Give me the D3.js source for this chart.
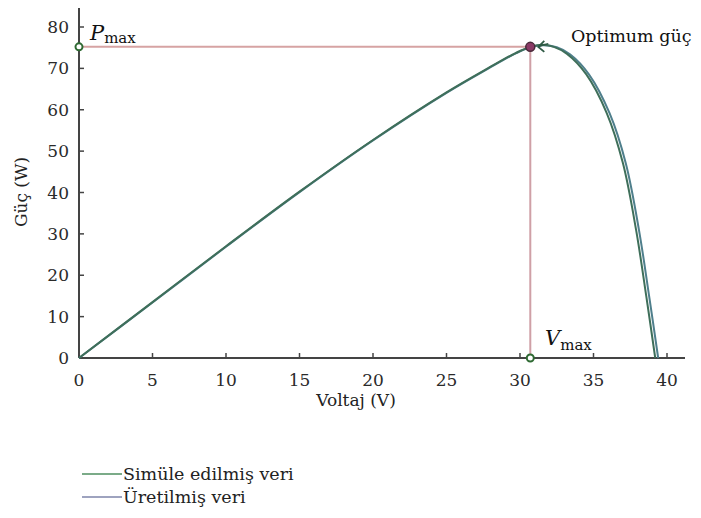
<!DOCTYPE html>
<html>
<head>
<meta charset="utf-8">
<script src="https://cdn.jsdelivr.net/npm/d3@7"></script>
<style>
  body { margin: 0; background: #fff; }
  svg text { font-family: "DejaVu Serif", serif; }
</style>
</head>
<body>
<div id="chart"></div>
<script>
// simulated data (voltage V, power W)
var simVolt  = [0, 5, 10, 15, 20, 25, 28, 29, 30, 30.7, 31.5, 32.3, 33.2, 34.5, 35.9, 37, 37.9, 38.6, 39.2];
var simPower = [0, 13.5, 27, 40.2, 52.7, 64.2, 70.4, 72.4, 74.2, 75.2, 75.7, 75.2, 73.5, 68.6, 59.2, 47.1, 30.9, 14.7, 0];
// produced (measured) data
var prodVolt  = [0, 5, 10, 15, 20, 25, 28, 29, 30, 30.7, 31.6, 32.5, 33.4, 34.7, 36.1, 37.2, 38.1, 38.8, 39.4];
var prodPower = [0, 13.4, 26.9, 40.1, 52.6, 64.1, 70.3, 72.3, 74.1, 75.1, 75.6, 75.1, 73.4, 68.5, 59.1, 47, 30.8, 14.6, 0];

var xTicks = [0, 5, 10, 15, 20, 25, 30, 35, 40];
var yTicks = [0, 10, 20, 30, 40, 50, 60, 70, 80];
var vMax = 30.7, pMax = 75.2;
var legendLabels = ["Simüle edilmiş veri", "Üretilmiş veri"];
var legendColors = ["#4f8f60", "#7e84aa"];

var width = 701, height = 518;
var svg = d3.select("#chart").append("svg")
    .attr("width", width)
    .attr("height", height);

var x = d3.scaleLinear().domain([0, 40]).range([79, 667]);
var y = d3.scaleLinear().domain([0, 80]).range([358, 27]);

// axes lines
svg.append("line")
    .attr("x1", x(0)).attr("x2", 685)
    .attr("y1", y(0)).attr("y2", y(0))
    .attr("stroke", "#444").attr("stroke-width", 2);
svg.append("line")
    .attr("x1", x(0)).attr("x2", x(0))
    .attr("y1", 8).attr("y2", y(0))
    .attr("stroke", "#444").attr("stroke-width", 2);

// ticks + labels
xTicks.forEach(function(t){
    if (t > 0) {
        svg.append("line")
            .attr("x1", x(t)).attr("x2", x(t))
            .attr("y1", y(0)).attr("y2", y(0) - 5)
            .attr("stroke", "#444").attr("stroke-width", 1.5);
    }
    svg.append("text")
        .attr("x", x(t)).attr("y", 386)
        .attr("text-anchor", "middle")
        .attr("fill", "#2a2a2a")
        .style("font-size", "17px")
        .text(t);
});
yTicks.forEach(function(t){
    if (t > 0) {
        svg.append("line")
            .attr("x1", x(0)).attr("x2", x(0) + 5)
            .attr("y1", y(t)).attr("y2", y(t))
            .attr("stroke", "#444").attr("stroke-width", 1.5);
    }
    svg.append("text")
        .attr("x", 69).attr("y", y(t) + 6)
        .attr("text-anchor", "end")
        .attr("fill", "#2a2a2a")
        .style("font-size", "17px")
        .text(t);
});

// axis titles
svg.append("text")
    .attr("x", 356).attr("y", 406)
    .attr("text-anchor", "middle")
    .attr("fill", "#222")
    .style("font-size", "17px")
    .text("Voltaj (V)");
svg.append("text")
    .attr("transform", "translate(27,192) rotate(-90)")
    .attr("text-anchor", "middle")
    .attr("fill", "#222")
    .style("font-size", "17px")
    .text("Güç (W)");

// reference lines to max point
svg.append("line")
    .attr("x1", x(0)).attr("x2", x(vMax))
    .attr("y1", y(pMax)).attr("y2", y(pMax))
    .attr("stroke", "#d6a3a3").attr("stroke-width", 2);
svg.append("line")
    .attr("x1", x(vMax)).attr("x2", x(vMax))
    .attr("y1", y(pMax)).attr("y2", y(0))
    .attr("stroke", "#cfa0a6").attr("stroke-width", 2);

// curves
var line = d3.line()
    .x(function(d){ return x(d[0]); })
    .y(function(d){ return y(d[1]); })
    .curve(d3.curveCatmullRom.alpha(0.5));

svg.append("path")
    .datum(d3.zip(prodVolt, prodPower))
    .attr("d", line)
    .attr("fill", "none")
    .attr("stroke", "#4f7f8c")
    .attr("stroke-width", 2);
svg.append("path")
    .datum(d3.zip(simVolt, simPower))
    .attr("d", line)
    .attr("fill", "none")
    .attr("stroke", "#3f6f5a")
    .attr("stroke-width", 2);

// markers
svg.append("circle")
    .attr("cx", x(0)).attr("cy", y(pMax)).attr("r", 3.5)
    .attr("fill", "#fff").attr("stroke", "#2f6a33").attr("stroke-width", 2);
svg.append("circle")
    .attr("cx", x(vMax)).attr("cy", y(0)).attr("r", 3.5)
    .attr("fill", "#fff").attr("stroke", "#2f6a33").attr("stroke-width", 2);
svg.append("circle")
    .attr("cx", x(vMax)).attr("cy", y(pMax)).attr("r", 4.5)
    .attr("fill", "#8a3a66").attr("stroke", "#4a2a3a").attr("stroke-width", 1.5);

// optimum arrow
svg.append("path")
    .attr("d", "M" + (x(vMax) + 18) + "," + (y(pMax) - 3) + " Q" + (x(vMax) + 12) + "," + (y(pMax) - 2) + " " + (x(vMax) + 8) + "," + y(pMax))
    .attr("fill", "none").attr("stroke", "#2f5a45").attr("stroke-width", 1.5);
svg.append("path")
    .attr("d", "M" + (x(vMax) + 14) + "," + (y(pMax) - 6) + " L" + (x(vMax) + 8) + "," + y(pMax) + " L" + (x(vMax) + 14) + "," + (y(pMax) + 5))
    .attr("fill", "none").attr("stroke", "#2f5a45").attr("stroke-width", 1.8);

svg.append("text")
    .attr("x", 571).attr("y", 42)
    .attr("fill", "#111")
    .style("font-size", "17.5px")
    .text("Optimum güç");

// P_max label
var pLab = svg.append("text")
    .attr("x", 90).attr("y", 40)
    .attr("fill", "#111")
    .style("font-size", "21px");
pLab.append("tspan").style("font-style", "italic").text("P");
pLab.append("tspan").attr("dy", 3).style("font-size", "15px").text("max");

// V_max label
var vLab = svg.append("text")
    .attr("x", 545).attr("y", 345)
    .attr("fill", "#111")
    .style("font-size", "21px");
vLab.append("tspan").style("font-style", "italic").text("V");
vLab.append("tspan").attr("dy", 5).style("font-size", "15px").text("max");

// legend
legendLabels.forEach(function(lab, i){
    var ly = 474 + i * 23;
    svg.append("line")
        .attr("x1", 82).attr("x2", 122)
        .attr("y1", ly).attr("y2", ly)
        .attr("stroke", legendColors[i]).attr("stroke-width", 1.5);
    svg.append("text")
        .attr("x", 123).attr("y", ly + 6)
        .attr("fill", "#222")
        .style("font-size", "17.5px")
        .text(lab);
});
</script>
</body>
</html>
